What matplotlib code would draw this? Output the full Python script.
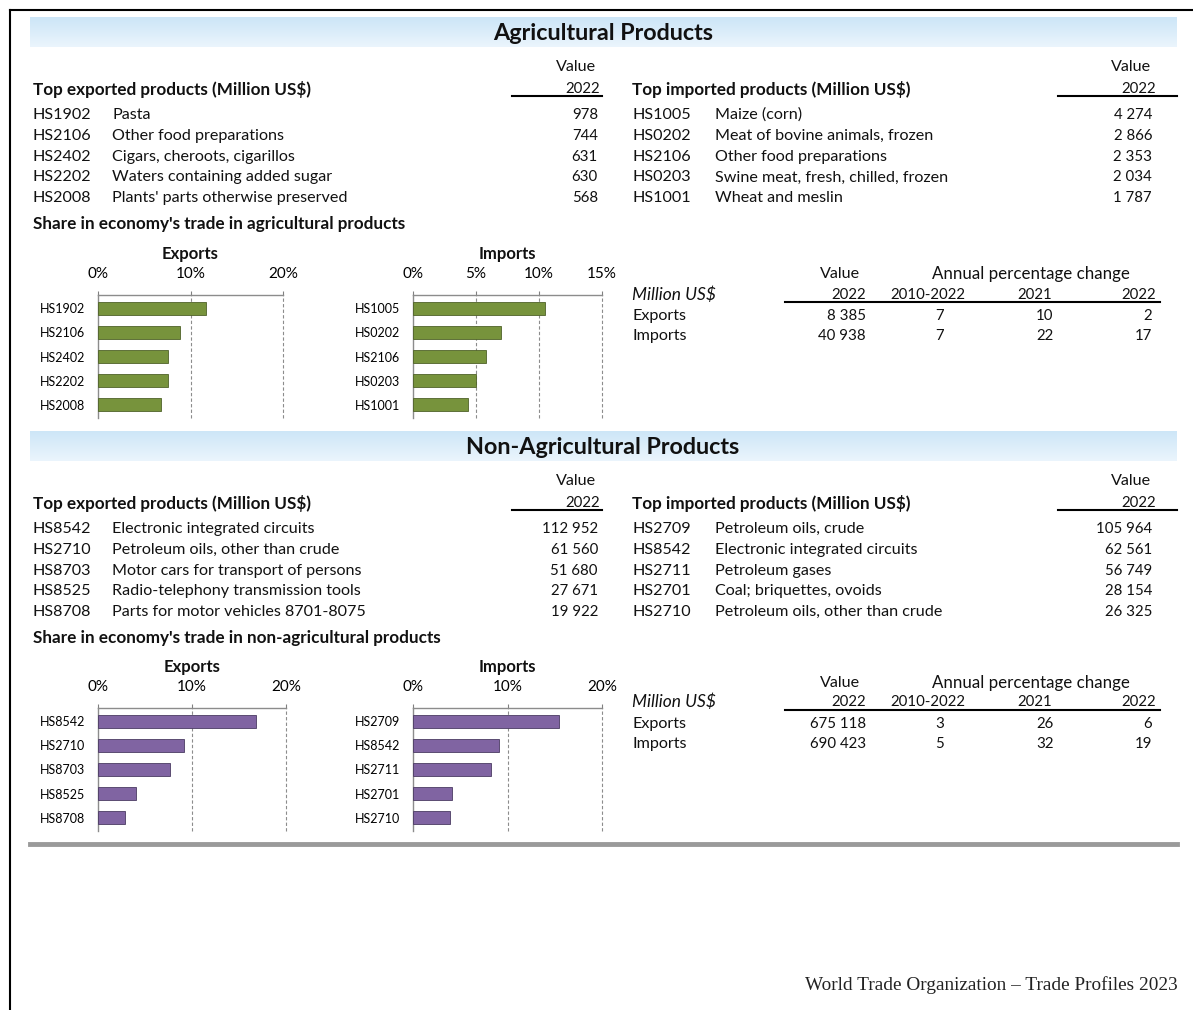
import numpy as np
import matplotlib.pyplot as plt
from matplotlib.lines import Line2D

plt.rcParams['font.family'] = ['Lato', 'DejaVu Sans']

W, H = 1193, 1010

# ---- data ----
agri_exp_codes = ['HS1902', 'HS2106', 'HS2402', 'HS2202', 'HS2008']
agri_exp_names = ['Pasta', 'Other food preparations', 'Cigars, cheroots, cigarillos',
                  'Waters containing added sugar', "Plants' parts otherwise preserved"]
agri_exp_values = ['978', '744', '631', '630', '568']
agri_imp_codes = ['HS1005', 'HS0202', 'HS2106', 'HS0203', 'HS1001']
agri_imp_names = ['Maize (corn)', 'Meat of bovine animals, frozen', 'Other food preparations',
                  'Swine meat, fresh, chilled, frozen', 'Wheat and meslin']
agri_imp_values = ['4 274', '2 866', '2 353', '2 034', '1 787']
agri_exp_share = [11.7, 8.9, 7.6, 7.6, 6.8]
agri_imp_share = [10.45, 7.0, 5.8, 5.0, 4.4]
agri_summary = [['Exports', '8 385', '7', '10', '2'],
                ['Imports', '40 938', '7', '22', '17']]

nonag_exp_codes = ['HS8542', 'HS2710', 'HS8703', 'HS8525', 'HS8708']
nonag_exp_names = ['Electronic integrated circuits', 'Petroleum oils, other than crude',
                   'Motor cars for transport of persons', 'Radio-telephony transmission tools',
                   'Parts for motor vehicles 8701-8075']
nonag_exp_values = ['112 952', '61 560', '51 680', '27 671', '19 922']
nonag_imp_codes = ['HS2709', 'HS8542', 'HS2711', 'HS2701', 'HS2710']
nonag_imp_names = ['Petroleum oils, crude', 'Electronic integrated circuits', 'Petroleum gases',
                   'Coal; briquettes, ovoids', 'Petroleum oils, other than crude']
nonag_imp_values = ['105 964', '62 561', '56 749', '28 154', '26 325']
nonag_exp_share = [16.8, 9.1, 7.7, 4.0, 2.9]
nonag_imp_share = [15.5, 9.1, 8.3, 4.1, 3.9]
nonag_summary = [['Exports', '675 118', '3', '26', '6'],
                 ['Imports', '690 423', '5', '32', '19']]

fig = plt.figure(figsize=(W / 100, H / 100), dpi=100)

BASE = 11.6   # body text size
NUM = 10.8    # numbers
BOLD = 12.3   # bold sub headings


def fx(x):
    return x / W


def fy(y):
    return 1 - y / H


def txt(x, y, s, **kw):
    kw.setdefault('va', 'center')
    kw.setdefault('fontsize', BASE)
    kw.setdefault('color', '#111111')
    fig.text(fx(x), fy(y + 2), s, **kw)


def hline(x0, x1, y, lw=1.5, color='black'):
    fig.add_artist(Line2D([fx(x0), fx(x1)], [fy(y), fy(y)], lw=lw, color=color,
                          transform=fig.transFigure))


def band(y0, y1, title):
    ax = fig.add_axes([fx(30), fy(y1), fx(1177) - fx(30), fy(y0) - fy(y1)])
    grad = np.linspace(0, 1, 50).reshape(-1, 1)
    top = np.array([0.80, 0.90, 0.97])
    bot = np.array([0.92, 0.96, 0.99])
    img = top + grad[..., None] * (bot - top)
    ax.imshow(img, aspect='auto', extent=[0, 1, 0, 1])
    ax.set_axis_off()
    txt(603, (y0 + y1) / 2 - 1, title, ha='center', fontsize=16.8, fontweight='bold')


def product_table(dy, exp_codes, exp_names, exp_vals, imp_codes, imp_names, imp_vals):
    txt(576, 65 + dy, 'Value', ha='center')
    txt(600, 87 + dy, '2022', ha='right', fontsize=NUM)
    hline(512, 602, 96 + dy)
    txt(33, 87 + dy, 'Top exported products (Million US$)', fontweight='bold', fontsize=BOLD)
    txt(1131, 65 + dy, 'Value', ha='center')
    txt(1156, 87 + dy, '2022', ha='right', fontsize=NUM)
    hline(1058, 1177, 96 + dy)
    txt(632, 87 + dy, 'Top imported products (Million US$)', fontweight='bold', fontsize=BOLD)
    for i in range(5):
        y = 113 + dy + i * 20.8
        txt(33, y, exp_codes[i])
        txt(112, y, exp_names[i])
        txt(598, y, exp_vals[i], ha='right', fontsize=NUM)
        txt(632, y, imp_codes[i])
        txt(715, y, imp_names[i])
        txt(1152, y, imp_vals[i], ha='right', fontsize=NUM)


def bar_chart(x0, x1, top, bottom, labels, values, xmax, ticks, color, edge, title):
    ax = fig.add_axes([fx(x0), fy(bottom), fx(x1) - fx(x0), fy(top) - fy(bottom)])
    pos = np.arange(len(values))
    ax.barh(pos, values, height=0.55, color=color, edgecolor=edge, linewidth=0.6, zorder=3)
    ax.set_xlim(0, xmax)
    ax.set_ylim(4.55, -0.55)
    ax.set_xticks(ticks)
    ax.set_xticklabels([f'{t}%' for t in ticks])
    ax.xaxis.tick_top()
    ax.tick_params(axis='x', length=3, color='#808080', pad=7, labelsize=11)
    ax.set_yticks(pos)
    ax.set_yticklabels(labels)
    ax.tick_params(axis='y', length=0, pad=9, labelsize=9)
    for t in ticks[1:]:
        ax.axvline(t, color='#8c8c8c', lw=0.8, ls=(0, (3, 2)), zorder=1, clip_on=False)
    for s in ['right', 'bottom']:
        ax.spines[s].set_visible(False)
    for s in ['top', 'left']:
        ax.spines[s].set_color('#8c8c8c')
        ax.spines[s].set_linewidth(1.0)
    ax.set_facecolor('none')
    txt((x0 + x1) / 2, top - 43, title, ha='center', fontweight='bold', fontsize=12)


def summary_table(y_head, y_sub, y_line, rows):
    txt(840, y_head, 'Value', ha='center')
    txt(1031, y_head, 'Annual percentage change', ha='center', fontsize=12.2)
    txt(632, y_sub, 'Million US$', style='italic', fontsize=12.5)
    txt(866, y_sub, '2022', ha='right', fontsize=NUM)
    txt(928, y_sub, '2010-2022', ha='center', fontsize=NUM)
    txt(1035, y_sub, '2021', ha='center', fontsize=NUM)
    txt(1156, y_sub, '2022', ha='right', fontsize=NUM)
    hline(785, 1160, y_line)
    for i, r in enumerate(rows):
        y = y_line + 12 + i * 20
        txt(632, y, r[0])
        txt(866, y, r[1], ha='right', fontsize=NUM)
        txt(940, y, r[2], ha='center', fontsize=NUM)
        txt(1045, y, r[3], ha='center', fontsize=NUM)
        txt(1152, y, r[4], ha='right', fontsize=NUM)


# ---- border ----
fig.add_artist(Line2D([fx(10), fx(10)], [fy(10), 0], lw=1.5, color='black',
                      transform=fig.transFigure))
hline(10, W, 10)

# ---- agricultural ----
band(17, 47, 'Agricultural Products')
product_table(0, agri_exp_codes, agri_exp_names, agri_exp_values,
              agri_imp_codes, agri_imp_names, agri_imp_values)
txt(33, 222, "Share in economy's trade in agricultural products", fontweight='bold',
    fontsize=BOLD)
bar_chart(98, 283, 295, 418, agri_exp_codes, agri_exp_share, 20, [0, 10, 20],
          '#77933C', '#4f6228', 'Exports')
bar_chart(413, 602, 295, 418, agri_imp_codes, agri_imp_share, 15, [0, 5, 10, 15],
          '#77933C', '#4f6228', 'Imports')
summary_table(272, 293, 302, agri_summary)

# ---- non-agricultural ----
d = 414
band(17 + d, 47 + d, 'Non-Agricultural Products')
product_table(d, nonag_exp_codes, nonag_exp_names, nonag_exp_values,
              nonag_imp_codes, nonag_imp_names, nonag_imp_values)
txt(33, 222 + d, "Share in economy's trade in non-agricultural products", fontweight='bold',
    fontsize=BOLD)
bar_chart(98, 286, 295 + d - 1, 418 + d - 1, nonag_exp_codes, nonag_exp_share, 20, [0, 10, 20],
          '#8064A2', '#4b3b63', 'Exports')
bar_chart(413, 602, 295 + d - 1, 418 + d - 1, nonag_imp_codes, nonag_imp_share, 20, [0, 10, 20],
          '#8064A2', '#4b3b63', 'Imports')
summary_table(681, 700, 710, nonag_summary)

# ---- bottom rule and footer ----
hline(30, 1177, 844, lw=3.5, color='#9a9a9a')
txt(1178, 983, 'World Trade Organization \u2013 Trade Profiles 2023', ha='right',
    fontsize=13.9, family=['Liberation Serif', 'DejaVu Serif'], color='#222222')

fig.savefig('out.png', dpi=100)
